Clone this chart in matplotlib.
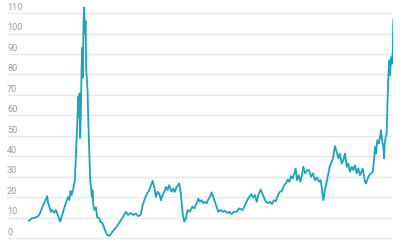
import matplotlib

matplotlib.use("Agg")

import matplotlib.pyplot as plt
import matplotlib.transforms as mtransforms

# series (decimal year, value)
years = [
    1972.00, 1972.37, 1972.82, 1973.28, 1973.51, 1973.74, 1973.96, 1974.29, 1974.51, 1974.65,
    1974.88, 1975.02, 1975.20, 1975.48, 1975.71, 1976.02, 1976.30, 1976.57, 1976.85, 1977.15,
    1977.40, 1977.54, 1977.73, 1977.87, 1978.09, 1978.32, 1978.46, 1978.63, 1978.77, 1978.87,
    1978.96, 1979.05, 1979.14, 1979.24, 1979.32, 1979.42, 1979.51, 1979.60, 1979.69, 1979.79,
    1979.87, 1979.97, 1980.06, 1980.15, 1980.24, 1980.34, 1980.42, 1980.52, 1980.65, 1980.75,
    1980.83, 1980.97, 1981.20, 1981.38, 1981.62, 1981.85, 1982.12, 1982.44, 1982.76, 1983.03,
    1983.36, 1983.68, 1984.05, 1984.50, 1984.95, 1985.32, 1985.64, 1985.97, 1986.33, 1986.70,
    1987.01, 1987.34, 1987.62, 1987.93, 1988.25, 1988.52, 1988.76, 1988.99, 1989.21, 1989.45,
    1989.68, 1989.90, 1990.13, 1990.37, 1990.59, 1990.82, 1991.05, 1991.27, 1991.60, 1991.82,
    1992.05, 1992.29, 1992.51, 1992.65, 1992.84, 1992.98, 1993.15, 1993.33, 1993.57, 1993.80,
    1994.12, 1994.43, 1994.71, 1995.04, 1995.26, 1995.49, 1995.72, 1995.94, 1996.18, 1996.41,
    1996.63, 1996.86, 1997.10, 1997.32, 1997.55, 1997.78, 1998.00, 1998.33, 1998.61, 1998.92,
    1999.24, 1999.51, 1999.84, 2000.16, 2000.53, 2000.85, 2001.35, 2001.67, 2001.99, 2002.26,
    2002.54, 2002.81, 2003.04, 2003.28, 2003.50, 2003.83, 2004.05, 2004.28, 2004.55, 2004.87,
    2005.10, 2005.38, 2005.65, 2005.93, 2006.20, 2006.48, 2006.75, 2007.03, 2007.30, 2007.54,
    2007.76, 2007.99, 2008.22, 2008.44, 2008.63, 2008.81, 2009.05, 2009.27, 2009.50, 2009.68,
    2009.95, 2010.23, 2010.46, 2010.74, 2011.01, 2011.29, 2011.56, 2011.84, 2012.07, 2012.29,
    2012.43, 2012.66, 2012.89, 2013.11, 2013.35, 2013.58, 2013.80, 2014.03, 2014.27, 2014.49,
    2014.72, 2014.95, 2015.17, 2015.41, 2015.64, 2015.86, 2016.09, 2016.33, 2016.55, 2016.78,
    2017.01, 2017.23, 2017.47, 2017.84, 2018.15, 2018.29, 2018.61, 2018.94, 2019.21, 2019.39,
    2019.53, 2019.66, 2019.84, 2020.04, 2020.21, 2020.35, 2020.49, 2020.67, 2020.76, 2020.86,
    2021.00, 2021.13, 2021.22, 2021.35, 2021.49, 2021.59, 2021.73, 2021.86, 2021.96, 2022.04,
]
values = [
    8.4, 9.6, 9.9, 10.7, 12.0, 14.0, 16.0, 18.5, 20.5, 17.0,
    14.5, 12.8, 13.7, 12.3, 13.7, 10.7, 8.0, 11.2, 14.5, 18.0,
    20.0, 18.5, 23.0, 21.0, 24.0, 28.0, 41.0, 54.0, 69.0, 59.0,
    70.7, 49.0, 62.0, 83.0, 93.0, 78.5, 106.0, 112.7, 100.0, 106.0,
    83.0, 77.0, 72.0, 59.0, 49.0, 38.0, 28.0, 25.0, 20.0, 23.4,
    17.0, 13.7, 15.0, 10.2, 9.8, 7.8, 7.3, 3.9, 1.5, 1.0,
    2.4, 4.0, 5.5, 8.0, 10.4, 12.8, 11.2, 12.3, 11.2, 12.0,
    10.7, 11.2, 16.0, 19.3, 21.8, 23.4, 25.8, 28.0, 25.0, 20.1,
    22.6, 21.8, 18.5, 21.0, 22.6, 25.0, 23.4, 25.8, 22.6, 24.2,
    22.6, 25.0, 25.8, 26.7, 22.6, 17.0, 11.2, 8.0, 9.6, 13.7,
    12.8, 15.3, 14.5, 17.0, 19.3, 17.7, 18.5, 17.0, 17.7, 17.0,
    18.9, 20.1, 22.3, 20.1, 17.7, 15.3, 12.8, 13.7, 12.8, 13.3,
    12.3, 12.8, 11.7, 12.8, 12.8, 14.5, 13.7, 16.0, 18.5, 20.1,
    21.5, 19.8, 21.0, 17.7, 21.0, 23.7, 21.8, 19.8, 17.7, 17.0,
    17.7, 16.6, 18.5, 18.0, 21.0, 22.6, 23.1, 25.8, 26.7, 28.6,
    27.5, 30.2, 29.1, 31.6, 34.0, 28.3, 30.7, 27.5, 30.7, 34.8,
    31.6, 33.2, 33.2, 29.9, 31.6, 28.3, 29.6, 27.5, 28.3, 22.6,
    18.5, 23.4, 27.5, 31.6, 35.6, 37.2, 39.7, 44.9, 42.1, 38.9,
    41.3, 36.4, 38.0, 41.3, 34.8, 36.4, 32.3, 34.8, 33.2, 35.6,
    31.6, 34.0, 30.7, 33.9, 27.5, 26.7, 29.9, 31.6, 32.3, 38.0,
    44.5, 41.3, 47.8, 46.2, 49.4, 52.7, 47.8, 44.5, 38.9, 46.2,
    49.4, 51.0, 64.0, 78.7, 86.8, 79.5, 88.4, 85.2, 91.7, 106.8,
]
y_ticks = [0, 10, 20, 30, 40, 50, 60, 70, 80, 90, 100, 110]

LINE_COLOR = "#17a5c2"
GRID_COLOR = "#e8e8e8"
LABEL_COLOR = "#9a9a9a"

fig = plt.figure(figsize=(4, 2.4), dpi=100)
ax = fig.add_axes([0.0175, 0.0, 0.9658, 1.0])

for t in y_ticks:
    ax.axhline(t, color=GRID_COLOR, linewidth=1.0, zorder=1)

ax.plot(years, values, color=LINE_COLOR, linewidth=1.3, zorder=3,
        solid_joinstyle="round")

# y labels sit just above their grid lines, inside the plot area
trans = mtransforms.blended_transform_factory(ax.transAxes, ax.transData)
for t in y_ticks:
    ax.text(0.0, t + 0.6, str(t), transform=trans, ha="left", va="bottom",
            fontsize=6.6, color=LABEL_COLOR, family=["Roboto", "DejaVu Sans"], zorder=2)

ax.set_xlim(1969.0, years[-1])
ax.set_ylim(-0.98, 116.4)
ax.axis("off")

fig.savefig("out.png", dpi=100)
